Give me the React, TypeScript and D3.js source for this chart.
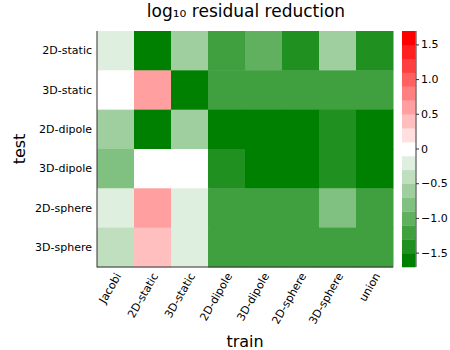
import React from "react";
import * as d3 from "d3";

// categories
const trainLabels = ["Jacobi", "2D-static", "3D-static", "2D-dipole", "3D-dipole", "2D-sphere", "3D-sphere", "union"];
const testLabels = ["2D-static", "3D-static", "2D-dipole", "3D-dipole", "2D-sphere", "3D-sphere"];

// log10 residual reduction, one row per test set (columns follow trainLabels)
const row2DStatic = [-0.2, -1.6, -0.6, -1.2, -1.0, -1.4, -0.6, -1.4];
const row3DStatic = [0.0, 0.6, -1.6, -1.2, -1.2, -1.2, -1.2, -1.2];
const row2DDipole = [-0.6, -1.6, -0.6, -1.6, -1.6, -1.6, -1.4, -1.6];
const row3DDipole = [-0.8, 0.0, 0.0, -1.4, -1.6, -1.6, -1.4, -1.6];
const row2DSphere = [-0.2, 0.6, -0.2, -1.2, -1.2, -1.2, -0.8, -1.2];
const row3DSphere = [-0.4, 0.4, -0.2, -1.2, -1.2, -1.2, -1.2, -1.2];

const cbTicks = [-1.5, -1.0, -0.5, 0, 0.5, 1.0, 1.5];

const rows = [row2DStatic, row3DStatic, row2DDipole, row3DDipole, row2DSphere, row3DSphere];

const margin = { left: 97, top: 31, right: 393, bottom: 267 };
const font = "DejaVu Sans, sans-serif";

const nLevels = 17;
const toWhite = d3.interpolateRgb("rgb(0,128,0)", "#ffffff");
const toRed = d3.interpolateRgb("#ffffff", "#ff0000");
const levelColors = d3.range(nLevels).map(i => (i < 8 ? toWhite(i / 8) : toRed((i - 8) / 8)));

const color = d3.scaleQuantize<string>().domain([-1.7, 1.7]).range(levelColors);

export default function App() {
  const x = d3.scaleBand().domain(trainLabels).range([margin.left, margin.right]);
  const y = d3.scaleBand().domain(testLabels).range([margin.top, margin.bottom]);
  const cb = d3.scaleLinear().domain([-1.7, 1.7]).range([margin.bottom, margin.top]);
  const cbX = 402, cbW = 13.5;
  const step = 3.4 / nLevels;

  return (
    <svg width={450} height={350} style={{ position: "absolute", left: 0, top: 0, background: "#fff" }} fontFamily={font}>
      <text x={246} y={16.5} fontSize={17} textAnchor="middle">log₁₀ residual reduction</text>

      {rows.map((row, r) =>
        row.map((v, c) => (
          <rect key={r + "-" + c} x={x(trainLabels[c])} y={y(testLabels[r])}
            width={x.bandwidth() + 0.5} height={y.bandwidth() + 0.5} fill={color(v)} />
        ))
      )}

      <line x1={margin.left} x2={margin.left} y1={margin.top} y2={margin.bottom + 0.5} stroke="#333" strokeWidth={1} />
      <line x1={margin.left} x2={margin.right} y1={margin.bottom} y2={margin.bottom} stroke="#333" strokeWidth={1} />

      {testLabels.map(t => (
        <text key={t} x={92} y={(y(t) ?? 0) + y.bandwidth() / 2} fontSize={11} textAnchor="end" dominantBaseline="central">{t}</text>
      ))}
      {trainLabels.map(t => {
        const cx = (x(t) ?? 0) + x.bandwidth() / 2 + 3;
        const cy = 274;
        return (
          <text key={t} transform={`translate(${cx},${cy}) rotate(-60)`} fontSize={11} textAnchor="end" dominantBaseline="central">{t}</text>
        );
      })}

      <text transform={`translate(19,${(margin.top + margin.bottom) / 2}) rotate(-90)`} fontSize={16} textAnchor="middle" dominantBaseline="central">test</text>
      <text x={245} y={341} fontSize={16} textAnchor="middle" dominantBaseline="central">train</text>

      {levelColors.map((col, i) => {
        const lo = -1.7 + i * step;
        return <rect key={i} x={cbX} y={cb(lo + step)} width={cbW} height={cb(lo) - cb(lo + step) + 0.3} fill={col} />;
      })}
      <line x1={416} x2={416} y1={margin.top} y2={margin.bottom} stroke="#333" strokeWidth={1} />
      {cbTicks.map(t => (
        <g key={t}>
          <line x1={416} x2={419} y1={cb(t)} y2={cb(t)} stroke="#333" />
          <text x={421} y={cb(t)} fontSize={11} dominantBaseline="central">{t === 0 ? "0" : d3.format(".1f")(t).replace("-", "\u2212")}</text>
        </g>
      ))}
    </svg>
  );
}
